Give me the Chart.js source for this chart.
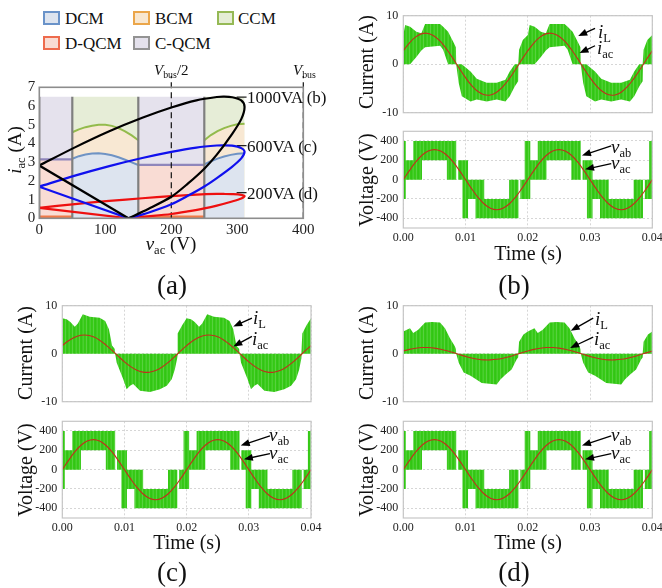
<!DOCTYPE html>
<html>
<head>
<meta charset="utf-8">
<script src="https://cdn.jsdelivr.net/npm/chart.js@4.4.1/dist/chart.umd.min.js"></script>
<style>
  body { margin: 0; background: #fff; }
  #page { position: relative; width: 662px; height: 588px; overflow: hidden; font-family: "Liberation Serif", "Times New Roman", serif; color: #111; }
  canvas { position: absolute; }
  .t { position: absolute; white-space: nowrap; line-height: 1; }
  .l { transform: translateY(-50%); }
  .c { transform: translate(-50%, -50%); }
  .r { transform: translate(-50%, -50%) rotate(-90deg); }
  .s { font-size: 0.66em; position: relative; top: 0.32em; font-style: normal; }
  .box { position: absolute; width: 17px; height: 14px; box-sizing: border-box; border: 2px solid; }
</style>
</head>
<body>
<div id="page">
  <canvas id="modeChart" width="330" height="200" style="left:0;top:60px"></canvas>
  <canvas id="curB" width="332" height="125" style="left:330px;top:0"></canvas>
  <canvas id="voltB" width="332" height="125" style="left:330px;top:125px"></canvas>
  <canvas id="curC" width="330" height="115" style="left:0;top:295px"></canvas>
  <canvas id="voltC" width="330" height="130" style="left:0;top:410px"></canvas>
  <canvas id="curD" width="332" height="115" style="left:330px;top:295px"></canvas>
  <canvas id="voltD" width="332" height="130" style="left:330px;top:410px"></canvas>

  <!-- legend of panel (a) -->
  <div class="box" style="left:43px;top:11px;background:#dde4ef;border-color:#6a93c9"></div>
  <div class="t l" style="left:65px;top:18px;font-size:17px">DCM</div>
  <div class="box" style="left:133px;top:11px;background:#f8e7d0;border-color:#eba64a"></div>
  <div class="t l" style="left:155px;top:18px;font-size:17px">BCM</div>
  <div class="box" style="left:217px;top:11px;background:#e5edd5;border-color:#95b955"></div>
  <div class="t l" style="left:238px;top:18px;font-size:17px">CCM</div>
  <div class="box" style="left:43px;top:36px;background:#f9dcd3;border-color:#ee6b4d"></div>
  <div class="t l" style="left:65px;top:43px;font-size:17px">D-QCM</div>
  <div class="box" style="left:133px;top:36px;background:#e4e1ec;border-color:#939393"></div>
  <div class="t l" style="left:155px;top:43px;font-size:17px">C-QCM</div>

  <div class="t l" style="left:154px;top:70px;font-size:15px"><i>V</i><span class="s">bus</span>/2</div>
  <div class="t l" style="left:293px;top:70px;font-size:15px"><i>V</i><span class="s">bus</span></div>
  <div class="t l" style="left:247px;top:97px;font-size:17px">1000VA (b)</div>
  <div class="t l" style="left:247px;top:146px;font-size:17px">600VA (c)</div>
  <div class="t l" style="left:247px;top:193px;font-size:17px">200VA (d)</div>
  <div class="t r" style="left:14px;top:150px;font-size:19px"><i>i</i><span class="s">ac</span> (A)</div>
  <div class="t c" style="left:171px;top:243px;font-size:19px"><i>v</i><span class="s">ac</span> (V)</div>
  <div class="t c" style="left:172px;top:285px;font-size:27px">(a)</div>

  <!-- panel (b) -->
  <div class="t r" style="left:366px;top:62px;font-size:20px">Current (A)</div>
  <div class="t r" style="left:366px;top:180px;font-size:20px">Voltage (V)</div>
  <div class="t l" style="left:598px;top:31px;font-size:19px"><i>i</i><span class="s">L</span></div>
  <div class="t l" style="left:597px;top:47px;font-size:19px"><i>i</i><span class="s">ac</span></div>
  <div class="t l" style="left:611px;top:146px;font-size:19px"><i>v</i><span class="s">ab</span></div>
  <div class="t l" style="left:611px;top:162px;font-size:19px"><i>v</i><span class="s">ac</span></div>
  <div class="t c" style="left:528px;top:253px;font-size:20px">Time (s)</div>
  <div class="t c" style="left:514px;top:285px;font-size:27px">(b)</div>

  <!-- panel (c) -->
  <div class="t r" style="left:25px;top:353px;font-size:20px">Current (A)</div>
  <div class="t r" style="left:25px;top:470px;font-size:20px">Voltage (V)</div>
  <div class="t l" style="left:253px;top:317px;font-size:19px"><i>i</i><span class="s">L</span></div>
  <div class="t l" style="left:252px;top:338px;font-size:19px"><i>i</i><span class="s">ac</span></div>
  <div class="t l" style="left:269px;top:434px;font-size:19px"><i>v</i><span class="s">ab</span></div>
  <div class="t l" style="left:269px;top:452px;font-size:19px"><i>v</i><span class="s">ac</span></div>
  <div class="t c" style="left:187px;top:542px;font-size:20px">Time (s)</div>
  <div class="t c" style="left:172px;top:572px;font-size:27px">(c)</div>

  <!-- panel (d) -->
  <div class="t r" style="left:366px;top:353px;font-size:20px">Current (A)</div>
  <div class="t r" style="left:366px;top:470px;font-size:20px">Voltage (V)</div>
  <div class="t l" style="left:595px;top:318px;font-size:19px"><i>i</i><span class="s">L</span></div>
  <div class="t l" style="left:594px;top:338px;font-size:19px"><i>i</i><span class="s">ac</span></div>
  <div class="t l" style="left:611px;top:434px;font-size:19px"><i>v</i><span class="s">ab</span></div>
  <div class="t l" style="left:611px;top:452px;font-size:19px"><i>v</i><span class="s">ac</span></div>
  <div class="t c" style="left:528px;top:542px;font-size:20px">Time (s)</div>
  <div class="t c" style="left:514px;top:572px;font-size:27px">(d)</div>
</div>

<script>
// ---------- panel (a): operating modes over the v_ac / i_ac plane ----------
const modeBounds = [0, 50, 150, 250];
const modeTop = 6.5;
const vPeak = 311;
const vBusHalf = 200;
const vBus = 400;

// DCM/BCM (blue) and BCM/CCM (green) boundaries
const bndV1 = [50, 60, 70, 80, 90, 100, 110, 120, 130, 140, 150];
const dcmEdge1 = [3.18, 3.32, 3.41, 3.46, 3.47, 3.44, 3.37, 3.26, 3.13, 2.99, 2.85];
const ccmEdge1 = [4.6, 4.75, 4.87, 4.95, 5.0, 5.0, 4.94, 4.82, 4.65, 4.43, 4.17];
const bndV2 = [250, 260, 270, 280, 290, 300, 311];
const dcmEdge2 = [2.88, 3.05, 3.19, 3.3, 3.39, 3.45, 3.47];
const ccmEdge2 = [4.17, 4.45, 4.66, 4.82, 4.94, 5.02, 5.05];
const qcmEdge = [3.15, 2.85];   // C-QCM / D-QCM split in 0-50 V and 150-250 V
const dqcmFloor = 0.08;

// |i_ac| against v_ac over a half line cycle: rising branch, then falling branch to zero current
const loopV = [0, 54, 106, 156, 200, 238, 269, 280, 292, 306, 311, 306, 292, 269, 250, 225, 200, 165, 135];
const loop1000 = [2.82, 3.79, 4.65, 5.37, 5.92, 6.30, 6.48, 6.5, 6.47, 6.3, 5.95, 5.3, 4.5, 3.4, 2.65, 1.85, 1.15, 0.5, 0];
const loop600 = [1.69, 2.28, 2.79, 3.22, 3.55, 3.78, 3.89, 3.9, 3.88, 3.75, 3.55, 3.2, 2.75, 2.15, 1.7, 1.2, 0.75, 0.3, 0];
const loop200 = [0.56, 0.76, 0.93, 1.07, 1.18, 1.26, 1.3, 1.3, 1.29, 1.25, 1.18, 1.06, 0.9, 0.68, 0.53, 0.37, 0.23, 0.1, 0];
const ratingPeak = [6.47, 3.88, 1.37];

// ---------- panels (b)-(d): simulated waveforms, time in ms ----------
const tSine = [0, 1, 2, 3, 4, 5, 6, 7, 8, 9, 10, 11, 12, 13, 14, 15, 16, 17, 18, 19, 20,
  21, 22, 23, 24, 25, 26, 27, 28, 29, 30, 31, 32, 33, 34, 35, 36, 37, 38, 39, 40];
const vac = [0, 96, 183, 252, 296, 311, 296, 252, 183, 96, 0, -96, -183, -252, -296, -311, -296, -252, -183, -96, 0,
  96, 183, 252, 296, 311, 296, 252, 183, 96, 0, -96, -183, -252, -296, -311, -296, -252, -183, -96, 0];
const iacB = [2.78, 4.42, 5.64, 6.30, 6.34, 5.77, 4.63, 3.03, 1.14, -0.86, -2.78, -4.42, -5.64, -6.30, -6.34, -5.77, -4.63, -3.03, -1.14, 0.86, 2.78,
  4.42, 5.64, 6.30, 6.34, 5.77, 4.63, 3.03, 1.14, -0.86, -2.78, -4.42, -5.64, -6.30, -6.34, -5.77, -4.63, -3.03, -1.14, 0.86, 2.78];
const iacC = [1.69, 2.69, 3.43, 3.84, 3.86, 3.51, 2.82, 1.85, 0.70, -0.52, -1.69, -2.69, -3.43, -3.84, -3.86, -3.51, -2.82, -1.85, -0.70, 0.52, 1.69,
  2.69, 3.43, 3.84, 3.86, 3.51, 2.82, 1.85, 0.70, -0.52, -1.69, -2.69, -3.43, -3.84, -3.86, -3.51, -2.82, -1.85, -0.70, 0.52, 1.69];
const iacD = [0.56, 0.90, 1.14, 1.28, 1.29, 1.17, 0.94, 0.62, 0.23, -0.17, -0.56, -0.90, -1.14, -1.28, -1.29, -1.17, -0.94, -0.62, -0.23, 0.17, 0.56,
  0.90, 1.14, 1.28, 1.29, 1.17, 0.94, 0.62, 0.23, -0.17, -0.56, -0.90, -1.14, -1.28, -1.29, -1.17, -0.94, -0.62, -0.23, 0.17, 0.56];

// inductor current ripple band (upper / lower envelope)
const tB = [0, 0.3, 1.1, 2.1, 2.9, 3.5, 5.9, 6.4, 7.2, 8.0, 8.45, 8.5, 8.9, 9.4, 10.8, 11.8, 13.4, 15.0, 16.4, 17.1, 17.9, 18.45, 18.5, 18.6, 19.2,
  20, 20.3, 21.1, 22.1, 22.9, 23.5, 25.9, 26.4, 27.2, 28.0, 28.45, 28.5, 28.9, 29.4, 30.8, 31.8, 33.4, 35.0, 36.4, 37.1, 37.9, 38.45, 38.5, 38.6, 39.2, 40];
const ilHiB = [6.0, 8.1, 7.7, 6.7, 6.4, 8.3, 8.3, 7.7, 6.7, 4.7, 3.5, 0, 0, 0, -1.5, -3.0, -3.8, -3.8, -3.2, -1.5, 0, 0, 0, 3.0, 5.0,
  6.0, 8.1, 7.7, 6.7, 6.4, 8.3, 8.3, 7.7, 6.7, 4.7, 3.5, 0, 0, 0, -1.5, -3.0, -3.8, -3.8, -3.2, -1.5, 0, 0, 0, 3.0, 5.0, 6.0];
const ilLoB = [0, 0, 0, 1.5, 2.8, 3.5, 3.8, 3.0, 0, 0, 0, 0, -3.9, -6.6, -7.7, -7.3, -7.7, -7.3, -7.7, -6.6, -4.6, -3.5, 0, 0, 0,
  0, 0, 0, 1.5, 2.8, 3.5, 3.8, 3.0, 0, 0, 0, 0, -3.9, -6.6, -7.7, -7.3, -7.7, -7.3, -7.7, -6.6, -4.6, -3.5, 0, 0, 0, 0];

const tC = [0, 0.7, 1.3, 2.0, 2.5, 3.3, 4.4, 6.0, 6.9, 7.5, 8.0, 8.45, 8.5, 8.75, 9.8, 10.35, 10.9, 11.4, 12.5, 14.1, 15.7, 16.8, 17.6, 18.1, 18.45, 18.5, 18.6, 19.3,
  20, 20.7, 21.3, 22.0, 22.5, 23.3, 24.4, 26.0, 26.9, 27.5, 28.0, 28.45, 28.5, 28.75, 29.8, 30.35, 30.9, 31.4, 32.5, 34.1, 35.7, 36.8, 37.6, 38.1, 38.45, 38.5, 38.6, 39.3, 40];
const ilHiC = [7.4, 7.2, 6.6, 5.6, 6.3, 8.2, 7.7, 7.5, 6.8, 5.1, 1.7, 1.0, 0, 0, 0, 0, 0, 0, 0, 0, 0, 0, 0, 0, 0, 0, 4.2, 6.0,
  7.4, 7.2, 6.6, 5.6, 6.3, 8.2, 7.7, 7.5, 6.8, 5.1, 1.7, 1.0, 0, 0, 0, 0, 0, 0, 0, 0, 0, 0, 0, 0, 0, 0, 4.2, 6.0, 7.4];
const ilLoC = [0, 0, 0, 0, 0, 0, 0, 0, 0, 0, 0, 0, 0, -1.9, -5.3, -7.4, -6.7, -6.3, -7.7, -8.0, -7.4, -6.7, -5.3, -3.3, -1.0, 0, 0, 0,
  0, 0, 0, 0, 0, 0, 0, 0, 0, 0, 0, 0, 0, -1.9, -5.3, -7.4, -6.7, -6.3, -7.7, -8.0, -7.4, -6.7, -5.3, -3.3, -1.0, 0, 0, 0, 0];

const tD = [0, 1.07, 1.6, 2.4, 3.5, 4.6, 5.9, 6.7, 7.5, 8.3, 8.45, 8.5, 8.9, 9.7, 10.8, 11.3, 12.6, 15.0, 15.6, 16.4, 17.4, 18.2, 18.45, 18.5, 18.6, 19.3,
  20, 21.07, 21.6, 22.4, 23.5, 24.6, 25.9, 26.7, 27.5, 28.3, 28.45, 28.5, 28.9, 29.7, 30.8, 31.3, 32.6, 35.0, 35.6, 36.4, 37.4, 38.2, 38.45, 38.5, 38.6, 39.3, 40];
const ilHiD = [4.6, 5.3, 4.3, 5.0, 6.5, 6.6, 6.5, 5.3, 3.2, 1.5, 1.0, 0, 0, 0, 0, 0, 0, 0, 0, 0, 0, 0, 0, 0, 2.5, 4.0,
  4.6, 5.3, 4.3, 5.0, 6.5, 6.6, 6.5, 5.3, 3.2, 1.5, 1.0, 0, 0, 0, 0, 0, 0, 0, 0, 0, 0, 0, 0, 0, 2.5, 4.0, 4.6];
const ilLoD = [0, 0, 0, 0, 0, 0, 0, 0, 0, 0, 0, 0, -1.9, -3.9, -4.6, -5.0, -6.1, -6.4, -5.4, -4.4, -3.3, -1.2, -0.8, 0, 0, 0,
  0, 0, 0, 0, 0, 0, 0, 0, 0, 0, 0, 0, -1.9, -3.9, -4.6, -5.0, -6.1, -6.4, -5.4, -4.4, -3.3, -1.2, -0.8, 0, 0, 0, 0];

// five-level bridge voltage: switching band between two levels, held from each start time
const vabT = [0, 0.4, 1.6, 3.0, 7.0, 8.5, 8.8, 9.5, 10.4, 11.6, 13.0, 17.0, 18.5, 18.8, 19.5,
  20.4, 21.6, 23.0, 27.0, 28.5, 28.8, 29.5, 30.4, 31.6, 33.0, 37.0, 38.5, 38.8, 39.5, 40];
const vabLo = [-200, 0, 0, 200, 0, 0, 0, -400, -200, -400, -400, -400, 0, -200, -200,
  0, 0, 200, 0, 0, 0, -400, -200, -400, -400, -400, 0, -200, -200, -200];
const vabHi = [400, 200, 400, 400, 400, 0, 200, 200, 0, 0, -200, 0, 0, 0, 400,
  200, 400, 400, 400, 0, 200, 200, 0, 0, -200, 0, 0, 0, 400, 400];
const voltTicks = [-400, -200, 0, 200, 400];

// annotation arrows [time, value] tail -> head
const arrowsCurB = [{ from: [30.8, 7.4], to: [28.1, 5.8] }, { from: [30.8, 3.8], to: [28.3, 2.3] }];
const arrowsCurC = [{ from: [30.5, 7.4], to: [27.5, 5.65] }, { from: [30.5, 3.6], to: [27.5, 1.5] }];
const arrowsCurD = [{ from: [30.5, 7.4], to: [26.9, 4.76] }, { from: [30.5, 3.45], to: [26.8, 1.2] }];
const arrowsVolt = [{ from: [33.4, 350], to: [28.7, 250] }, { from: [33.4, 165], to: [29.2, 108] }];

Chart.defaults.font.family = '"Liberation Serif", "Times New Roman", serif';
Chart.defaults.color = '#222';
Chart.defaults.plugins.legend.display = false;
Chart.defaults.plugins.tooltip.enabled = false;
Chart.defaults.animation = false;
Chart.defaults.events = [];

const pts = (xs, ys) => xs.map((x, i) => ({ x, y: ys[i] }));

// each level holds until the next start time -> explicit corner points
function stepPts(ts, vs) {
  const out = [];
  for (let i = 0; i < ts.length - 1; i++) {
    out.push({ x: ts[i], y: vs[i] }, { x: ts[i + 1], y: vs[i] });
  }
  return out;
}

// frame around the plot area
function framePlugin(color, width) {
  return {
    id: 'frame',
    afterDatasetsDraw(chart) {
      const { ctx, chartArea: a } = chart;
      ctx.save();
      ctx.strokeStyle = color;
      ctx.lineWidth = width;
      ctx.strokeRect(a.left, a.top, a.right - a.left, a.bottom - a.top);
      ctx.restore();
    }
  };
}

// arrows pointing at the traces
function arrowPlugin(items) {
  return {
    id: 'arrows',
    afterDatasetsDraw(chart) {
      const { ctx, scales: { x, y } } = chart;
      ctx.save();
      ctx.strokeStyle = '#000';
      ctx.fillStyle = '#000';
      ctx.lineWidth = 1.3;
      items.forEach(a => {
        const x0 = x.getPixelForValue(a.from[0]), y0 = y.getPixelForValue(a.from[1]);
        const x1 = x.getPixelForValue(a.to[0]), y1 = y.getPixelForValue(a.to[1]);
        const ang = Math.atan2(y1 - y0, x1 - x0);
        const c = Math.cos(ang), s = Math.sin(ang);
        ctx.beginPath();
        ctx.moveTo(x0, y0);
        ctx.lineTo(x1 - 7 * c, y1 - 7 * s);
        ctx.stroke();
        ctx.beginPath();
        ctx.moveTo(x1, y1);
        ctx.lineTo(x1 - 9 * c + 3.5 * s, y1 - 9 * s - 3.5 * c);
        ctx.lineTo(x1 - 9 * c - 3.5 * s, y1 - 9 * s + 3.5 * c);
        ctx.closePath();
        ctx.fill();
      });
      ctx.restore();
    }
  };
}

// striped green used for the switched traces
function greenPattern() {
  const c = document.createElement('canvas');
  c.width = 7; c.height = 1;
  const g = c.getContext('2d');
  ['#35c816', '#38ca18', '#58d23f', '#35c816', '#31c514', '#40cc22', '#4acf30'].forEach((col, i) => {
    g.fillStyle = col;
    g.fillRect(i, 0, 1, 1);
  });
  return g.createPattern(c, 'repeat');
}
const GREEN = greenPattern();
const RED = '#c0301c';

function line(data, color, width, extra) {
  return Object.assign({ data, borderColor: color, borderWidth: width, pointRadius: 0, fill: false, tension: 0 }, extra || {});
}
function area(data, color) {
  return { data, backgroundColor: color, borderWidth: 0, pointRadius: 0, fill: 'origin', tension: 0 };
}

// ---------- panel (a) ----------
function initModeChart() {
  const strip = (x0, x1, y) => pts([x0, x1], [y, y]);
  const datasets = [
    // load loops, straight leg back to v = 0
    line(pts(loopV, loop1000), '#000', 2.2, { tension: 0.3 }),
    line(pts([135, 0], [0, loop1000[0]]), '#000', 2.2),
    line(pts(loopV, loop600), '#1010ee', 2.2, { tension: 0.3 }),
    line(pts([135, 0], [0, loop600[0]]), '#1010ee', 2.2),
    line(pts(loopV, loop200), '#ee1010', 2.2, { tension: 0.3 }),
    line(pts([135, 0], [0, loop200[0]]), '#ee1010', 2.2),
    // leader ticks to the rating labels
    ...ratingPeak.map(p => line(pts([299, 314], [p, p]), '#222', 1.2)),
    // bus voltage markers
    line(pts([vBusHalf, vBusHalf], [0, 7.6]), '#111', 1.2, { borderDash: [6, 4], clip: false }),
    line(pts([vBus, vBus], [0, 7.6]), '#111', 1.2, { borderDash: [6, 4], clip: false }),
    // mode boundaries
    ...modeBounds.map(v => line(pts([v, v], [0, modeTop]), '#7f7f7f', 2.2)),
    line(pts(bndV1, dcmEdge1), '#6f93c4', 2),
    line(pts(bndV2, dcmEdge2), '#6f93c4', 2),
    line(pts(bndV1, ccmEdge1), '#93bb4c', 2),
    line(pts(bndV2, ccmEdge2), '#93bb4c', 2),
    line(strip(0, 50, qcmEdge[0]), '#8f86bb', 2.2),
    line(strip(150, 250, qcmEdge[1]), '#8f86bb', 2.2),
    line(strip(0, 50, dqcmFloor), '#f07a48', 2.6),
    line(strip(150, 250, dqcmFloor), '#f07a48', 2.6),
    // mode regions, front to back
    area(pts(bndV1, dcmEdge1), '#dde4ef'),
    area(pts(bndV2, dcmEdge2), '#dde4ef'),
    area(pts(bndV1, ccmEdge1), '#f8e8d3'),
    area(pts(bndV2, ccmEdge2), '#f8e8d3'),
    area(strip(50, 150, modeTop), '#e6edd7'),
    area(strip(250, vPeak, modeTop), '#e6edd7'),
    area(strip(0, 50, qcmEdge[0]), '#f9dcd4'),
    area(strip(150, 250, qcmEdge[1]), '#f9dcd4'),
    area(strip(0, 50, modeTop), '#e5e2ed'),
    area(strip(150, 250, modeTop), '#e5e2ed')
  ];
  new Chart(document.getElementById('modeChart'), {
    type: 'line',
    data: { datasets },
    options: {
      responsive: false,
      layout: { padding: { top: 27.3, right: 26.7, bottom: 0, left: 0 } },
      scales: {
        x: {
          type: 'linear', min: 0, max: 400,
          ticks: { stepSize: 100, autoSkip: false, font: { size: 15 }, padding: 3, color: '#222' },
          grid: { display: false, drawTicks: false }, border: { display: false },
          afterFit: s => { s.height = 41.7; s.paddingLeft = 0; s.paddingRight = 0; }
        },
        y: {
          type: 'linear', min: 0, max: 7,
          ticks: { stepSize: 1, autoSkip: false, font: { size: 15 }, padding: 4, color: '#222' },
          grid: { display: false, drawTicks: false }, border: { display: false },
          afterFit: s => { s.width = 39.3; s.paddingTop = 0; s.paddingBottom = 0; }
        }
      }
    },
    plugins: [framePlugin('#8d8d8d', 1.6)]
  });
}

// ---------- waveform panels ----------
function waveScales(yMin, yMax, showTime, yWidth, yTicks) {
  const grid = { color: '#d6d6d6', lineWidth: 1, drawTicks: false };
  return {
    x: {
      type: 'linear', min: 0, max: 40,
      ticks: {
        display: showTime, stepSize: 10, autoSkip: false, font: { size: 12 }, padding: 3, color: '#222',
        callback: v => (v / 1000).toFixed(2)
      },
      grid, border: { display: false, dash: [2, 2] },
      afterFit: s => { s.height = showTime ? 22 : 0; s.paddingLeft = 0; s.paddingRight = 0; }
    },
    y: {
      type: 'linear', min: yMin, max: yMax,
      ticks: { font: { size: 12 }, padding: 5, color: '#222', autoSkip: false },
      grid, border: { display: false, dash: [2, 2] },
      afterBuildTicks: ax => { ax.ticks = yTicks.map(v => ({ value: v })); },
      afterFit: s => { s.width = yWidth; s.paddingTop = 0; s.paddingBottom = 0; }
    }
  };
}

function initCurrentChart(id, t, hi, lo, iac, arrows, yWidth, pad) {
  new Chart(document.getElementById(id), {
    type: 'line',
    data: {
      datasets: [
        line(pts(tSine, iac), RED, 1.1, { tension: 0.4 }),
        { data: pts(t, hi), backgroundColor: GREEN, borderWidth: 0, pointRadius: 0, fill: '+1' },
        { data: pts(t, lo), borderWidth: 0, pointRadius: 0, fill: false }
      ]
    },
    options: {
      responsive: false,
      layout: { padding: pad },
      scales: waveScales(-10, 10, false, yWidth, [-10, 0, 10])
    },
    plugins: [framePlugin('#c6c6c6', 1.2), arrowPlugin(arrows)]
  });
}

function initVoltageChart(id, arrows, yWidth, pad) {
  new Chart(document.getElementById(id), {
    type: 'line',
    data: {
      datasets: [
        line(pts(tSine, vac), RED, 1.1, { tension: 0.4 }),
        { data: stepPts(vabT, vabHi), backgroundColor: GREEN, borderWidth: 0, pointRadius: 0, fill: '+1' },
        { data: stepPts(vabT, vabLo), borderWidth: 0, pointRadius: 0, fill: false }
      ]
    },
    options: {
      responsive: false,
      layout: { padding: pad },
      scales: waveScales(-500, 500, true, yWidth, voltTicks)
    },
    plugins: [framePlugin('#c6c6c6', 1.2), arrowPlugin(arrows)]
  });
}

initModeChart();
initCurrentChart('curB', tB, ilHiB, ilLoB, iacB, arrowsCurB, 73.3, { top: 15.7, right: 9.7, bottom: 12.3, left: 0 });
initVoltageChart('voltB', arrowsVolt, 73.3, { top: 6.3, right: 9.7, bottom: 0, left: 0 });
initCurrentChart('curC', tC, ilHiC, ilLoC, iacC, arrowsCurC, 62.3, { top: 10.7, right: 19, bottom: 8.3, left: 0 });
initVoltageChart('voltC', arrowsVolt, 62.3, { top: 11.3, right: 19, bottom: 0, left: 0 });
initCurrentChart('curD', tD, ilHiD, ilLoD, iacD, arrowsCurD, 73.3, { top: 10.7, right: 9.7, bottom: 8.3, left: 0 });
initVoltageChart('voltD', arrowsVolt, 73.3, { top: 11.3, right: 9.7, bottom: 0, left: 0 });
</script>
</body>
</html>
